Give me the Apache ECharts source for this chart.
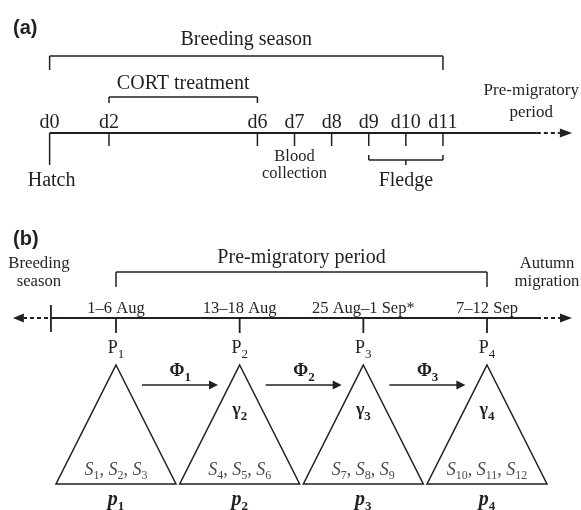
<!DOCTYPE html>
<html>
<head>
<meta charset="utf-8">
<script src="https://cdn.jsdelivr.net/npm/echarts@6/dist/echarts.min.js"></script>
<style>
  html, body { margin: 0; padding: 0; background: #fff; }
  #chart { width: 581px; height: 510px; }
</style>
</head>
<body>
<div id="chart"></div>
<script>
// ---- panel (a): nestling timeline, in days after hatch ----
const dayLabels = ['d0', 'd2', 'd6', 'd7', 'd8', 'd9', 'd10', 'd11'];
const dayPos = [0.4, 2, 6, 7, 8, 9, 10, 11]; // d0 is drawn a little closer in the figure
const breedingDays = [0.4, 11];
const cortDays = [2, 6];
const fledgeDays = [9, 11];
const bloodDay = 7;
const axisA = [0.4, 13.53, 14.15, 14.48]; // start, solid end, dashed end, arrow tip

// ---- panel (b): pre-migratory sampling occasions ----
const occasions = [1, 2, 3, 4];
const occasionDates = ['1–6 Aug', '13–18 Aug', '25 Aug–1 Sep*', '7–12 Sep'];
const preMigOcc = [1, 4];
const transitions = [[1, 2], [2, 3], [3, 4]];
const surveys = [[1, 2, 3], [4, 5, 6], [7, 8, 9], [10, 11, 12]];
const axisB = [0.474, 4.404, 4.59, 4.687]; // left tick, solid end, dashed end, arrow tip
const axisBLeft = [0.45, 0.255, 0.167];    // dashed start, dashed end, arrow tip

const ink = '#231f20';
const serif = '"Liberation Serif", "Times New Roman", serif';
const lw = 1.5;

const chart = echarts.init(document.getElementById('chart'));

function line(x1, y1, x2, y2, w, dash) {
  return { type: 'line', shape: { x1, y1, x2, y2 }, style: { stroke: ink, lineWidth: w || lw, lineDash: dash || null } };
}
function head(x0, x1, y) {
  return { type: 'polygon', shape: { points: [[x0, y - 4.5], [x1, y], [x0, y + 4.5]] }, style: { fill: ink } };
}
function txt(x, y, text, size, extra) {
  return {
    type: 'text', x, y,
    style: Object.assign({
      text, fill: ink, font: size + 'px ' + serif,
      align: 'center', textAlign: 'center', verticalAlign: 'middle', textVerticalAlign: 'middle'
    }, extra || {})
  };
}
// rich styles: m = main glyph, s = subscript (pushed down by top padding), c = comma
function rich(size, subSize, opts) {
  const o = opts || {};
  const pad = Math.round(size * 0.5);
  return {
    m: { fontFamily: serif, fontSize: size, lineHeight: size + 4, fontWeight: o.weight || 'normal', fontStyle: o.style || 'normal', fill: o.fill || ink, verticalAlign: 'top' },
    s: { fontFamily: serif, fontSize: subSize, lineHeight: subSize, padding: [pad, 0, 0, 0], fontWeight: o.weight || 'normal', fill: o.fill || ink, verticalAlign: 'top' },
    c: { fontFamily: serif, fontSize: size, lineHeight: size + 4, fill: o.fill || ink, verticalAlign: 'top' }
  };
}

// bracket: horizontal bar at dy, legs of length leg (negative = up)
function bracket(api, p1, p2, dy, leg, stem) {
  const a = api.coord([p1, 0]), b = api.coord([p2, 0]);
  const y = a[1] + dy;
  const ch = [line(a[0], y, b[0], y), line(a[0], y, a[0], y + leg), line(b[0], y, b[0], y + leg)];
  if (stem) ch.push(line((a[0] + b[0]) / 2, y, (a[0] + b[0]) / 2, y + stem));
  return ch;
}

const bracketsA = [breedingDays, cortDays, fledgeDays];
const bracketLayoutA = [
  { bar: -77, leg: 14, label: 'Breeding season', ly: -93 },
  { bar: -36, leg: 6, label: 'CORT treatment', ly: -49 },
  { bar: 27, leg: -5, stem: 5, label: 'Fledge', ly: 48 }
];

const option = {
  animation: false,
  grid: [
    { left: 0, right: 0, top: 0, height: 133 },
    { left: 0, right: 0, top: 200, height: 118 }
  ],
  xAxis: [
    { gridIndex: 0, type: 'value', min: -0.937, max: 14.72, show: false },
    { gridIndex: 1, type: 'value', min: 0.062, max: 4.76, show: false }
  ],
  yAxis: [
    { gridIndex: 0, type: 'value', min: 0, max: 1, show: false },
    { gridIndex: 1, type: 'value', min: 0, max: 1, show: false }
  ],
  graphic: [
    { type: 'text', left: 13, top: 18, style: { text: '(a)', font: 'bold 20px "Liberation Sans", Arial, sans-serif', fill: ink } },
    { type: 'text', left: 13, top: 229, style: { text: '(b)', font: 'bold 20px "Liberation Sans", Arial, sans-serif', fill: ink } }
  ],
  series: [
    // (a) timeline axis
    {
      type: 'custom', xAxisIndex: 0, yAxisIndex: 0, clip: false,
      data: [[axisA[0], 0]],
      renderItem: (params, api) => {
        const [x0, y] = api.coord([axisA[0], 0]);
        const x1 = api.coord([axisA[1], 0])[0], x2 = api.coord([axisA[2], 0])[0], x3 = api.coord([axisA[3], 0])[0];
        const pm = api.coord([13.38, 0])[0];
        const blood = api.coord([bloodDay, 0])[0];
        return { type: 'group', children: [
          line(x0, y, x1, y, 1.8), line(x1, y, x2, y, 1.8, [4, 3]), head(x2, x3, y),
          txt(pm, y - 42, 'Pre-migratory', 17), txt(pm, y - 20.5, 'period', 17),
          txt(blood, y + 24, 'Blood', 16.5), txt(blood, y + 41, 'collection', 16.5),
          txt(x0 + 2, y + 48, 'Hatch', 20)
        ] };
      }
    },
    // (a) day ticks
    {
      type: 'custom', xAxisIndex: 0, yAxisIndex: 0, clip: false,
      data: dayPos.map(p => [p, 0]),
      renderItem: (params, api) => {
        const [x, y] = api.coord([api.value(0), 0]);
        const i = params.dataIndex;
        return { type: 'group', children: [
          line(x, y, x, y + (i === 0 ? 32 : 13)),
          txt(x, y - 10, dayLabels[i], 20)
        ] };
      }
    },
    // (a) brackets
    {
      type: 'custom', xAxisIndex: 0, yAxisIndex: 0, clip: false,
      data: bracketsA.map(s => [s[0], 0, s[1]]),
      renderItem: (params, api) => {
        const L = bracketLayoutA[params.dataIndex];
        const p1 = api.value(0), p2 = api.value(2);
        const [xc, y] = api.coord([(p1 + p2) / 2, 0]);
        return { type: 'group', children: bracket(api, p1, p2, L.bar, L.leg, L.stem).concat([txt(xc, y + L.ly, L.label, 20)]) };
      }
    },
    // (b) timeline axis + side notes + bracket
    {
      type: 'custom', xAxisIndex: 1, yAxisIndex: 1, clip: false,
      data: [[axisB[0], 0]],
      renderItem: (params, api) => {
        const c = p => api.coord([p, 0])[0];
        const y = api.coord([0, 0])[1];
        const x0 = c(axisB[0]);
        const mid = c((preMigOcc[0] + preMigOcc[1]) / 2);
        return { type: 'group', children: [
          line(x0, y, c(axisB[1]), y, 1.8), line(c(axisB[1]), y, c(axisB[2]), y, 1.8, [4, 3]), head(c(axisB[2]), c(axisB[3]), y),
          line(x0, y - 13, x0, y + 14, 1.8),
          line(c(axisBLeft[0]), y, c(axisBLeft[1]), y, 1.8, [4, 3]), head(c(axisBLeft[1]), c(axisBLeft[2]), y),
          txt(c(0.377), y - 54, 'Breeding', 16.7), txt(c(0.377), y - 36, 'season', 16.7),
          txt(c(4.485), y - 54, 'Autumn', 16.7), txt(c(4.485), y - 36, 'migration', 16.7),
          txt(mid, y - 60, 'Pre-migratory period', 20)
        ].concat(bracket(api, preMigOcc[0], preMigOcc[1], -46, 15)) };
      }
    },
    // (b) occasions: tick, date, P label, triangle, gamma, S, p
    {
      type: 'custom', xAxisIndex: 1, yAxisIndex: 1, clip: false,
      data: occasions.map(p => [p, 0]),
      renderItem: (params, api) => {
        const i = params.dataIndex;
        const p = api.value(0);
        const [x, y] = api.coord([p, 0]);
        const xl = api.coord([p - 0.485, 0])[0], xr = api.coord([p + 0.485, 0])[0];
        const n = i + 1;
        const s = surveys[i];
        const ch = [
          line(x, y, x, y + 15, 1.8),
          txt(x, y - 9, occasionDates[i], 16.5),
          txt(x, y + 32, '{m|P}{s|' + n + '}', 18, { rich: rich(18, 13) }),
          { type: 'polygon', shape: { points: [[x, y + 47], [xr, y + 166], [xl, y + 166]] }, style: { fill: 'none', stroke: ink, lineWidth: lw } },
          txt(x, y + 154, s.map(k => '{m|S}{s|' + k + '}').join('{c|, }'), 18,
            { rich: rich(18, 12, { style: 'italic', fill: '#4a4a4a' }) }),
          txt(x, y + 184, '{m|p}{s|' + n + '}', 20, { rich: rich(20, 13, { weight: 'bold', style: 'italic' }) })
        ];
        if (i > 0) ch.push(txt(x, y + 94, '{m|γ}{s|' + n + '}', 18, { rich: rich(18, 13, { weight: 'bold' }) }));
        return { type: 'group', children: ch };
      }
    },
    // (b) survival arrows between occasions
    {
      type: 'custom', xAxisIndex: 1, yAxisIndex: 1, clip: false,
      data: transitions.map(t => [t[0], 0, t[1]]),
      renderItem: (params, api) => {
        const a = api.value(0), b = api.value(2);
        const [x1, y] = api.coord([a + 0.21, 0]);
        const x2 = api.coord([a + 0.825, 0])[0];
        const xm = api.coord([(a + b) / 2 + 0.02, 0])[0];
        const n = params.dataIndex + 1;
        return { type: 'group', children: [
          line(x1, y + 67, x2 - 8, y + 67), head(x2 - 9, x2, y + 67),
          txt(xm, y + 55, '{m|Φ}{s|' + n + '}', 18, { rich: rich(18, 13, { weight: 'bold' }) })
        ] };
      }
    }
  ]
};
chart.setOption(option);
</script>
</body>
</html>
